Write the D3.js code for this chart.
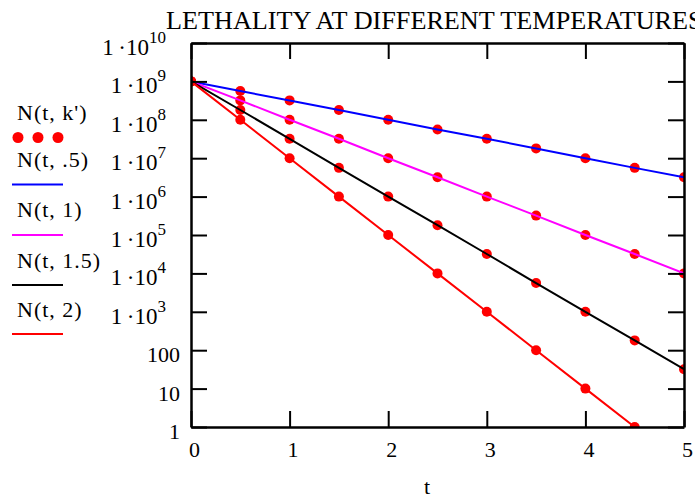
<!DOCTYPE html>
<html>
<head>
<meta charset="utf-8">
<script src="https://cdn.jsdelivr.net/npm/d3@7"></script>
<style>
  body { margin: 0; background: #fff; }
  text { font-family: "Liberation Serif", "DejaVu Serif", serif; fill: #000; }
</style>
</head>
<body>
<svg width="695" height="497"></svg>
<script>
// t values, step .5
var times = [0, 0.5, 1, 1.5, 2, 2.5, 3, 3.5, 4, 4.5, 5];

// N(t, k) for each k
var nHalf = [1e9, 5.6e8, 3.2e8, 1.8e8, 1e8, 5.6e7, 3.2e7, 1.8e7, 1e7, 5.6e6, 3.2e6];
var nOne = [1e9, 3.2e8, 1e8, 3.2e7, 1e7, 3.2e6, 1e6, 3.2e5, 1e5, 3.2e4, 1e4];
var nOneHalf = [1e9, 1.8e8, 3.2e7, 5.6e6, 1e6, 1.8e5, 3.2e4, 5.6e3, 1e3, 180, 32];
var nTwo = [1e9, 1e8, 1e7, 1e6, 1e5, 1e4, 1e3, 100, 10, 1, 0.1];

var seriesNames = ['N(t, .5)', 'N(t, 1)', 'N(t, 1.5)', 'N(t, 2)'];
var seriesColors = ['#0000ff', '#ff00ff', '#000000', '#ff0000'];
var seriesValues = [nHalf, nOne, nOneHalf, nTwo];

var xTicks = [0, 1, 2, 3, 4, 5];
var yTicks = [1, 10, 100, 1e3, 1e4, 1e5, 1e6, 1e7, 1e8, 1e9, 1e10];

var plotLeft = 191, plotRight = 684, plotTop = 43, plotBottom = 427;

var svg = d3.select('svg');

var x = d3.scaleLinear().domain([0, 5]).range([plotLeft, plotRight]);
var y = d3.scaleLog().domain([1, 1e10]).range([plotBottom, plotTop]);

svg.append('defs').append('clipPath')
   .attr('id', 'plot')
   .append('rect')
   .attr('x', plotLeft)
   .attr('y', plotTop)
   .attr('width', plotRight - plotLeft)
   .attr('height', plotBottom - plotTop);

// title (runs off the right edge like the original)
svg.append('text')
   .attr('x', 166)
   .attr('y', 29)
   .attr('font-size', 26.2)
   .text('LETHALITY AT DIFFERENT TEMPERATURES');

// dots first, lines on top
var dotLayer = svg.append('g').attr('clip-path', 'url(#plot)');
for (var i = 0; i < seriesValues.length; i++) {
  dotLayer.selectAll('circle.s' + i)
     .data(seriesValues[i])
     .enter()
     .append('circle')
     .attr('class', 's' + i)
     .attr('cx', function (d, j) { return x(times[j]); })
     .attr('cy', function (d) { return y(d); })
     .attr('r', 5)
     .attr('fill', '#ff0000');
}

var line = d3.line()
   .x(function (d, j) { return x(times[j]); })
   .y(function (d) { return y(d); });

var lineLayer = svg.append('g').attr('clip-path', 'url(#plot)');
for (var i = 0; i < seriesValues.length; i++) {
  lineLayer.append('path')
     .attr('d', line(seriesValues[i]))
     .attr('fill', 'none')
     .attr('stroke', seriesColors[i])
     .attr('stroke-width', 2);
}

// axes: ticks inside on all four sides
var tickLen = 16;
var axisB = d3.axisBottom(x).tickValues(xTicks).tickSize(-tickLen).tickSizeOuter(0).tickFormat('');
var axisT = d3.axisTop(x).tickValues(xTicks).tickSize(-tickLen).tickSizeOuter(0).tickFormat('');
var axisL = d3.axisLeft(y).tickValues(yTicks).tickSize(-tickLen).tickSizeOuter(0).tickFormat('');
var axisR = d3.axisRight(y).tickValues(yTicks).tickSize(-tickLen).tickSizeOuter(0).tickFormat('');

svg.append('g').attr('transform', 'translate(0,' + plotBottom + ')').call(axisB);
svg.append('g').attr('transform', 'translate(0,' + plotTop + ')').call(axisT);
svg.append('g').attr('transform', 'translate(' + plotLeft + ',0)').call(axisL);
svg.append('g').attr('transform', 'translate(' + plotRight + ',0)').call(axisR);

svg.selectAll('.domain').attr('stroke', '#000').attr('stroke-width', 2.5);
svg.selectAll('.tick line').attr('stroke', '#000').attr('stroke-width', 2);

// x tick labels
svg.selectAll('text.xl')
   .data(xTicks)
   .enter()
   .append('text')
   .attr('class', 'xl')
   .attr('x', function (d) { return x(d) + 3.5; })
   .attr('y', 457)
   .attr('text-anchor', 'middle')
   .attr('font-size', 22)
   .text(function (d) { return d; });

svg.append('text')
   .attr('x', 427)
   .attr('y', 494)
   .attr('text-anchor', 'middle')
   .attr('font-size', 22)
   .text('t');

// y tick labels
yTicks.forEach(function (v) {
  var e = Math.round(Math.log10(v));
  var ty = y(v) + 12;
  if (e <= 2) {
    svg.append('text')
       .attr('x', 180)
       .attr('y', ty)
       .attr('text-anchor', 'end')
       .attr('font-size', 22)
       .text(v);
  } else {
    var t = svg.append('text')
       .attr('x', 166)
       .attr('y', ty)
       .attr('text-anchor', 'end')
       .attr('font-size', 23);
    t.append('tspan').text('1\u2009\u00b710');
    t.append('tspan')
     .attr('font-size', 17)
     .attr('dy', -12)
     .text(e);
  }
});

// legend
svg.append('text')
   .attr('x', 17)
   .attr('y', 120)
   .attr('font-size', 22)
   .attr('letter-spacing', 1)
   .text("N(t, k')");

svg.selectAll('circle.leg')
   .data([18, 38, 58])
   .enter()
   .append('circle')
   .attr('class', 'leg')
   .attr('cx', function (d) { return d; })
   .attr('cy', 137.5)
   .attr('r', 5.5)
   .attr('fill', '#ff0000');

var legTextY = [167, 217, 268, 317];
var legLineY = [184.5, 235, 285, 334];
for (var i = 0; i < seriesNames.length; i++) {
  svg.append('text')
     .attr('x', 17)
     .attr('y', legTextY[i])
     .attr('font-size', 22)
     .attr('letter-spacing', 1)
     .text(seriesNames[i]);
  svg.append('line')
     .attr('x1', 12)
     .attr('x2', 63)
     .attr('y1', legLineY[i])
     .attr('y2', legLineY[i])
     .attr('stroke', seriesColors[i])
     .attr('stroke-width', 2);
}
</script>
</body>
</html>
